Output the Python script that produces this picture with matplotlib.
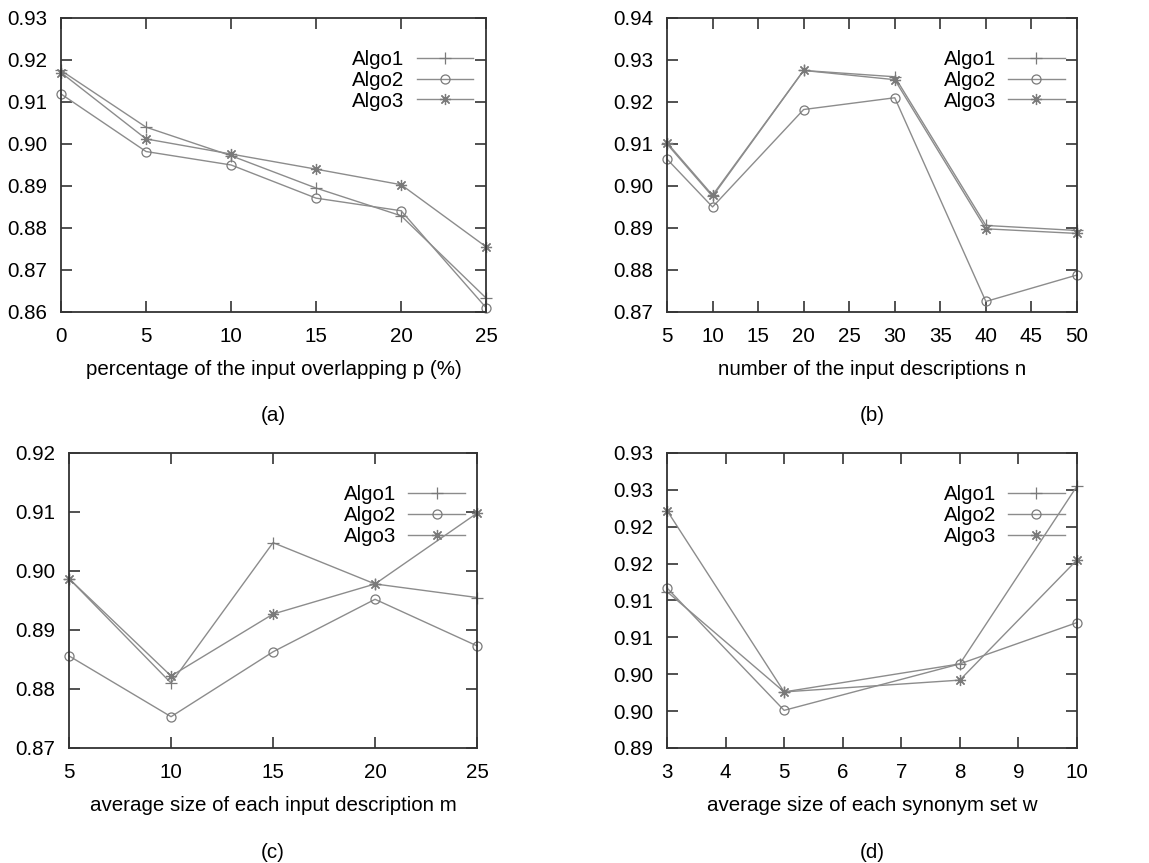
import matplotlib
matplotlib.use("Agg")
import matplotlib.pyplot as plt

plt.rcParams['font.family'] = ['Liberation Sans', 'DejaVu Sans']

# (a) percentage of overlapping
p_vals = [0, 5, 10, 15, 20, 25]
a_algo1 = [0.9175, 0.9040, 0.8972, 0.8895, 0.8829, 0.8633]
a_algo2 = [0.9119, 0.8982, 0.8950, 0.8871, 0.8841, 0.8610]
a_algo3 = [0.9170, 0.9012, 0.8976, 0.8940, 0.8903, 0.8755]

# (b) number of input descriptions
n_vals = [5, 10, 20, 30, 40, 50]
b_algo1 = [0.9100, 0.8975, 0.9275, 0.9260, 0.8906, 0.8894]
b_algo2 = [0.9064, 0.8950, 0.9182, 0.9210, 0.8725, 0.8788]
b_algo3 = [0.9103, 0.8978, 0.9275, 0.9253, 0.8898, 0.8887]

# (c) average size of input description
m_vals = [5, 10, 15, 20, 25]
c_algo1 = [0.8987, 0.8810, 0.9048, 0.8978, 0.8955]
c_algo2 = [0.8856, 0.8753, 0.8863, 0.8952, 0.8873]
c_algo3 = [0.8987, 0.8822, 0.8927, 0.8978, 0.9098]

# (d) average size of synonym set
w_vals = [3, 5, 8, 10]
d_algo1 = [0.9112, 0.8976, 0.9014, 0.9255]
d_algo2 = [0.9117, 0.8951, 0.9014, 0.9070]
d_algo3 = [0.9222, 0.8976, 0.8992, 0.9155]
d_yticks = [0.890, 0.895, 0.900, 0.905, 0.910, 0.915, 0.920, 0.925, 0.930]
d_ylabels = ["0.89", "0.90", "0.90", "0.91", "0.91", "0.92", "0.92", "0.93", "0.93"]

names = ["Algo1", "Algo2", "Algo3"]
markers = ["+", "o", (8, 2, 0)]

panels = [
    dict(pos=[0.0531, 0.6385, 0.370, 0.3407], x=p_vals, ys=[a_algo1, a_algo2, a_algo3],
         xlim=(0, 25), xticks=[0, 5, 10, 15, 20, 25], ylim=(0.86, 0.93),
         yticks=[0.86, 0.87, 0.88, 0.89, 0.90, 0.91, 0.92, 0.93], ylabels=None,
         xlabel="percentage of the input overlapping p (%)", tag="(a)", tag_y=0.519),
    dict(pos=[0.5805, 0.6385, 0.3568, 0.3407], x=n_vals, ys=[b_algo1, b_algo2, b_algo3],
         xlim=(5, 50), xticks=[5, 10, 15, 20, 25, 30, 35, 40, 45, 50], ylim=(0.87, 0.94),
         yticks=[0.87, 0.88, 0.89, 0.90, 0.91, 0.92, 0.93, 0.94], ylabels=None,
         xlabel="number of the input descriptions n", tag="(b)", tag_y=0.519),
    dict(pos=[0.0601, 0.1333, 0.3551, 0.3418], x=m_vals, ys=[c_algo1, c_algo2, c_algo3],
         xlim=(5, 25), xticks=[5, 10, 15, 20, 25], ylim=(0.87, 0.92),
         yticks=[0.87, 0.88, 0.89, 0.90, 0.91, 0.92], ylabels=None,
         xlabel="average size of each input description m", tag="(c)", tag_y=0.0127),
    dict(pos=[0.5805, 0.1333, 0.3568, 0.3418], x=w_vals, ys=[d_algo1, d_algo2, d_algo3],
         xlim=(3, 10), xticks=[3, 4, 5, 6, 7, 8, 9, 10], ylim=(0.89, 0.93),
         yticks=d_yticks, ylabels=d_ylabels,
         xlabel="average size of each synonym set w", tag="(d)", tag_y=0.0127),
]

fig = plt.figure(figsize=(11.49, 8.63), dpi=100)
line_col = "#8c8c8c"
fs = 14.8

for pn in panels:
    ax = fig.add_axes(pn["pos"])
    for name, mk, y in zip(names, markers, pn["ys"]):
        ax.plot(pn["x"], y, color=line_col, lw=1.0, marker=mk, markersize=8 if mk != "o" else 6.5,
                markerfacecolor="none", markeredgecolor="#7a7a7a", markeredgewidth=0.9,
                label=name, clip_on=False)
    ax.set_xlim(*pn["xlim"])
    ax.set_ylim(*pn["ylim"])
    ax.set_xticks(pn["xticks"])
    ax.set_yticks(pn["yticks"])
    if pn["ylabels"] is None:
        ax.set_yticklabels(["%.2f" % v for v in pn["yticks"]])
    else:
        ax.set_yticklabels(pn["ylabels"])
    ax.tick_params(direction="in", length=8, width=1.2, color="#333333",
                   top=True, right=True, labelsize=fs)
    ax.tick_params(axis="x", pad=11)
    ax.tick_params(axis="y", pad=10)
    for s in ax.spines.values():
        s.set_color("#333333")
        s.set_linewidth(1.3)
    ax.set_xlabel(pn["xlabel"], fontsize=fs, labelpad=10)
    ax.legend(loc="upper right", bbox_to_anchor=(0.97, 0.89), frameon=False,
              markerfirst=False, fontsize=fs, handlelength=2.75,
              handletextpad=0.6, labelspacing=0.08, borderaxespad=0, borderpad=0)
    l, b, w, h = pn["pos"]
    fig.text(l + w / 2, pn["tag_y"], pn["tag"], ha="center", va="center", fontsize=fs)

fig.savefig("out.png", dpi=100)
